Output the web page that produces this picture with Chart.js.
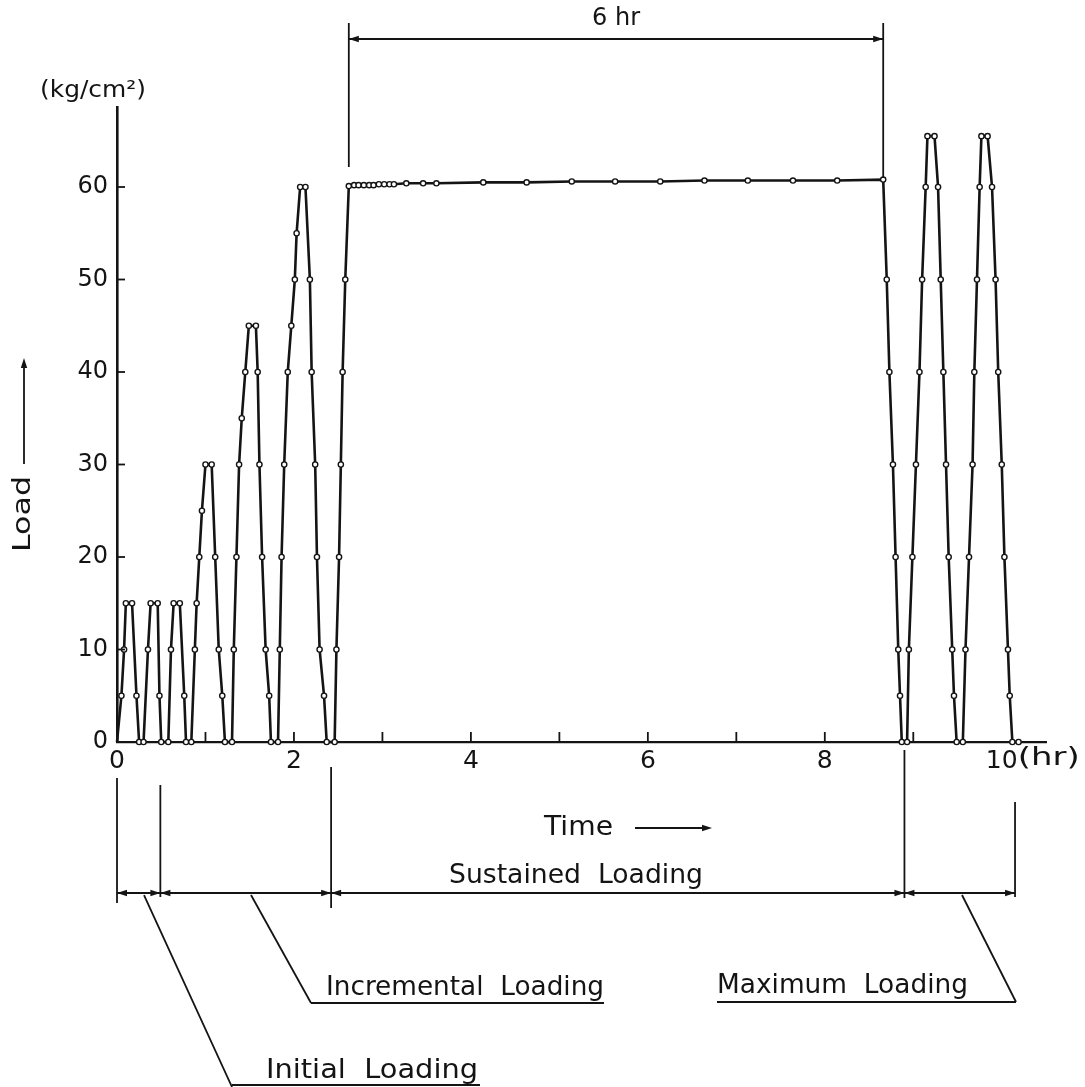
<!DOCTYPE html>
<html>
<head>
<meta charset="utf-8">
<script src="https://cdn.jsdelivr.net/npm/chart.js@4.4.0/dist/chart.umd.min.js"></script>
<style>
  html, body { margin: 0; padding: 0; background: #fff; }
  canvas { display: block; }
</style>
</head>
<body>
<canvas id="loadChart" width="1085" height="1087"></canvas>
<script>
// Load history: time in hr, load in kg/cm2
const initialTime = [0, 0.05, 0.08, 0.10, 0.17, 0.22, 0.25, 0.30,
    0.35, 0.38, 0.46, 0.48, 0.50, 0.58,
    0.61, 0.64, 0.71, 0.76, 0.78, 0.84];
const initialLoad = [0, 5, 10, 15, 15, 5, 0, 0,
    10, 15, 15, 5, 0, 0,
    10, 15, 15, 5, 0, 0];

const incrementalTime = [0.88, 0.90, 0.93, 0.96, 1.00, 1.07, 1.11, 1.15, 1.19, 1.22, 1.30,
    1.32, 1.35, 1.38, 1.41, 1.45, 1.49, 1.57, 1.59, 1.61, 1.64, 1.68, 1.72, 1.74, 1.82,
    1.84, 1.86, 1.89, 1.93, 1.97, 2.01, 2.03, 2.07, 2.13, 2.18, 2.20, 2.24, 2.26, 2.29, 2.34, 2.37, 2.46];
const incrementalLoad = [10, 15, 20, 25, 30, 30, 20, 10, 5, 0, 0,
    10, 20, 30, 35, 40, 45, 45, 40, 30, 20, 10, 5, 0, 0,
    10, 20, 30, 40, 45, 50, 55, 60, 60, 50, 40, 30, 20, 10, 5, 0, 0];

const sustainedTime = [2.48, 2.51, 2.53, 2.55, 2.58, 2.62, 2.68, 2.73, 2.79, 2.85, 2.90, 2.96,
    3.02, 3.08, 3.13, 3.27, 3.46, 3.61, 4.14, 4.63, 5.14, 5.63, 6.14, 6.64, 7.13, 7.64, 8.14, 8.66];
const sustainedLoad = [10, 20, 30, 40, 50, 60.1, 60.2, 60.2, 60.2, 60.2, 60.2, 60.3,
    60.3, 60.3, 60.3, 60.4, 60.4, 60.4, 60.5, 60.5, 60.6, 60.6, 60.6, 60.7, 60.7, 60.7, 60.7, 60.8];

const maximumTime = [8.70, 8.73, 8.77, 8.80, 8.83, 8.85, 8.87, 8.93,
    8.95, 8.99, 9.03, 9.07, 9.10, 9.14, 9.16, 9.24,
    9.28, 9.31, 9.34, 9.37, 9.40, 9.44, 9.46, 9.49, 9.56,
    9.59, 9.63, 9.67, 9.69, 9.72, 9.75, 9.77, 9.84,
    9.89, 9.93, 9.96, 10.00, 10.03, 10.07, 10.09, 10.12, 10.19];
const maximumLoad = [50, 40, 30, 20, 10, 5, 0, 0,
    10, 20, 30, 40, 50, 60, 65.5, 65.5,
    60, 50, 40, 30, 20, 10, 5, 0, 0,
    10, 20, 30, 40, 50, 60, 65.5, 65.5,
    60, 50, 40, 30, 20, 10, 5, 0, 0];

// axes
const yTickValues = [0, 10, 20, 30, 40, 50, 60];
const xLabelHours = [0, 2, 4, 6, 8, 10];
const minorHours = [1, 2, 3, 4, 5, 6, 7, 8, 9];

// phase boundaries under the time axis (hr) and the 6 hr sustained span
const phaseBounds = [0, 0.49, 2.42, 8.9, 10.15];
const sustainSpan = [2.62, 8.66];

const ink = '#141414';
const FONT = '"DejaVu Sans", sans-serif';

const points = [];
[[initialTime, initialLoad], [incrementalTime, incrementalLoad],
 [sustainedTime, sustainedLoad], [maximumTime, maximumLoad]].forEach(function(pair) {
    pair[0].forEach(function(t, i) { points.push({x: t, y: pair[1][i]}); });
});

function drawText(ctx, str, x, y, size, width, align) {
    ctx.save();
    ctx.font = size + 'px ' + FONT;
    ctx.textBaseline = 'middle';
    ctx.textAlign = 'left';
    const w = ctx.measureText(str).width;
    const sx = width ? width / w : 1;
    const x0 = align === 'center' ? x - w * sx / 2 : x;
    ctx.translate(x0, y);
    ctx.scale(sx, 1);
    ctx.fillText(str, 0, 0);
    ctx.restore();
}

function line(ctx, x1, y1, x2, y2) {
    ctx.beginPath();
    ctx.moveTo(x1, y1);
    ctx.lineTo(x2, y2);
    ctx.stroke();
}

// filled arrow head with its tip at (x, y), pointing along angle a
function head(ctx, x, y, a) {
    const len = 10, half = 3.2;
    ctx.save();
    ctx.translate(x, y);
    ctx.rotate(a);
    ctx.beginPath();
    ctx.moveTo(0, 0);
    ctx.lineTo(-len, -half);
    ctx.lineTo(-len, half);
    ctx.closePath();
    ctx.fill();
    ctx.restore();
}

const annotations = {
    id: 'annotations',
    afterDraw: function(chart) {
        const ctx = chart.ctx;
        const xs = chart.scales.x, ys = chart.scales.y;
        const X = function(v) { return xs.getPixelForValue(v); };
        const Y = function(v) { return ys.getPixelForValue(v); };
        ctx.save();
        ctx.strokeStyle = ink;
        ctx.fillStyle = ink;
        ctx.lineWidth = 1.8;

        // inner tick marks
        yTickValues.slice(1).forEach(function(v) { line(ctx, xs.left, Y(v), xs.left + 8, Y(v)); });
        minorHours.forEach(function(h) { line(ctx, X(h), ys.bottom, X(h), ys.bottom - 10); });

        // unit labels
        drawText(ctx, '(kg/cm²)', 40, 91, 23, 106);
        drawText(ctx, '(hr)', X(10) + 16, 758, 25, 62);

        // Load arrow (rotated)
        ctx.save();
        ctx.translate(24, 514);
        ctx.rotate(-Math.PI / 2);
        drawText(ctx, 'Load', 0, 0, 24, 76, 'center');
        ctx.restore();
        line(ctx, 24, 464, 24, 366);
        head(ctx, 24, 358, -Math.PI / 2);

        // 6 hr span above the sustained load
        const sL = X(sustainSpan[0]), sR = X(sustainSpan[1]);
        line(ctx, sL, 23, sL, 167);
        line(ctx, sR, 23, sR, 178);
        line(ctx, sL, 39, sR, 39);
        head(ctx, sL, 39, Math.PI);
        head(ctx, sR, 39, 0);
        drawText(ctx, '6 hr', (sL + sR) / 2, 19, 24, 48, 'center');

        // Time arrow
        drawText(ctx, 'Time', 544, 828, 26, 69);
        line(ctx, 635, 828, 702, 828);
        head(ctx, 712, 828, 0);

        // phase dimension line
        const tops = [778, 785, 767, 750, 802];
        const bots = [903, 897, 908, 898, 897];
        const dimY = 893;
        phaseBounds.forEach(function(h, i) { line(ctx, X(h), tops[i], X(h), bots[i]); });
        line(ctx, X(phaseBounds[0]), dimY, X(phaseBounds[phaseBounds.length - 1]), dimY);
        phaseBounds.forEach(function(h, i) {
            if (i > 0) head(ctx, X(h), dimY, 0);
            if (i < phaseBounds.length - 1) head(ctx, X(h), dimY, Math.PI);
        });
        drawText(ctx, 'Sustained  Loading', 449, 876, 27, 254);

        // leaders to the phase names
        line(ctx, 144, dimY + 2, 232, 1087);
        drawText(ctx, 'Initial  Loading', 266, 1071, 27, 212);
        line(ctx, 232, 1085, 480, 1085);

        line(ctx, 251, dimY + 2, 311, 1003);
        line(ctx, 311, 1003, 604, 1003);
        drawText(ctx, 'Incremental  Loading', 326, 988, 27, 278);

        line(ctx, 962, dimY + 2, 1016, 1002);
        line(ctx, 717, 1002, 1016, 1002);
        drawText(ctx, 'Maximum  Loading', 717, 986, 27, 251);

        ctx.restore();
    }
};

new Chart(document.getElementById('loadChart'), {
    type: 'line',
    data: {
        datasets: [{
            data: points,
            borderColor: ink,
            borderWidth: 2.6,
            tension: 0,
            fill: false,
            clip: false,
            pointRadius: function(c) { return c.dataIndex === 0 ? 0 : 2.6; },
            pointBackgroundColor: '#fff',
            pointBorderColor: ink,
            pointBorderWidth: 1.4
        }]
    },
    options: {
        responsive: false,
        animation: false,
        devicePixelRatio: 1,
        layout: {
            padding: {left: 0, top: 107, right: 39, bottom: 305}
        },
        plugins: {
            legend: {display: false},
            tooltip: {enabled: false}
        },
        scales: {
            x: {
                type: 'linear',
                min: 0,
                max: 10.5,
                afterBuildTicks: function(s) { s.ticks = xLabelHours.map(function(v) { return {value: v}; }); },
                afterFit: function(s) { s.height = 40; },
                grid: {display: false, drawTicks: false},
                border: {display: true, color: ink, width: 2.2},
                ticks: {
                    padding: 4,
                    color: ink,
                    maxRotation: 0,
                    autoSkip: false,
                    font: {family: FONT, size: 25}
                }
            },
            y: {
                min: 0,
                max: 68.65,
                afterBuildTicks: function(s) { s.ticks = yTickValues.map(function(v) { return {value: v}; }); },
                afterFit: function(s) { s.width = 117; },
                grid: {display: false, drawTicks: false},
                border: {display: true, color: ink, width: 2.6},
                ticks: {
                    padding: 9,
                    color: ink,
                    autoSkip: false,
                    font: {family: FONT, size: 24}
                }
            }
        }
    },
    plugins: [annotations]
});
</script>
</body>
</html>
